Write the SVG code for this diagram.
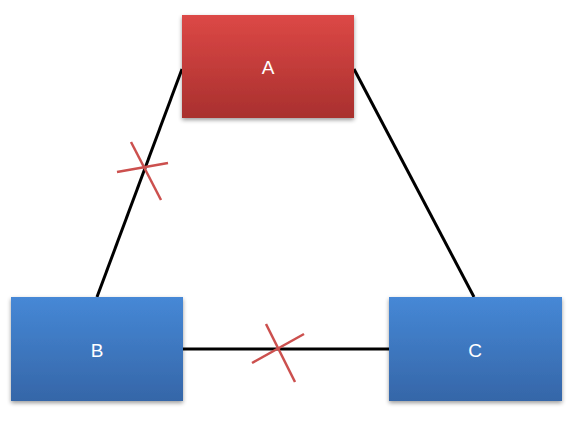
<svg xmlns="http://www.w3.org/2000/svg" width="571" height="422" viewBox="0 0 571 422">
<defs>
<linearGradient id="gRed" x1="0" y1="0" x2="0" y2="1">
<stop offset="0" stop-color="#dc4846"/>
<stop offset="1" stop-color="#a9302e"/>
</linearGradient>
<linearGradient id="gBlue" x1="0" y1="0" x2="0" y2="1">
<stop offset="0" stop-color="#4688d6"/>
<stop offset="1" stop-color="#3566a8"/>
</linearGradient>
<filter id="sh" x="-10%" y="-10%" width="120%" height="130%">
<feGaussianBlur in="SourceAlpha" stdDeviation="2"/>
<feOffset dx="0" dy="2" result="b"/>
<feComponentTransfer><feFuncA type="linear" slope="0.4"/></feComponentTransfer>
<feMerge><feMergeNode/><feMergeNode in="SourceGraphic"/></feMerge>
</filter>
</defs>
<style>
.lbl{font-family:"Liberation Sans",Arial,sans-serif;font-size:19px;fill:#ffffff;text-anchor:middle;dominant-baseline:central}
.ln{stroke:#000;stroke-width:3;fill:none}
.x{stroke:#cc504e;stroke-width:2.5;fill:none}
</style>
<rect width="571" height="422" fill="#ffffff"/>
<g id="connectors">
<line class="ln" x1="182" y1="69" x2="97" y2="297"/>
<line class="ln" x1="354" y1="69" x2="474" y2="297"/>
<line class="ln" x1="183" y1="349" x2="389" y2="349"/>
<line class="x" x1="117" y1="172" x2="168" y2="163"/>
<line class="x" x1="131" y1="142" x2="161" y2="200"/>
<line class="x" x1="252" y1="363" x2="304" y2="334"/>
<line class="x" x1="266" y1="324" x2="295" y2="382"/>
</g>
<g id="A">
<rect x="182" y="15" width="172" height="103" fill="url(#gRed)" filter="url(#sh)"/>
<text class="lbl" x="268" y="67">A</text>
</g>
<g id="B">
<rect x="11" y="297" width="172" height="104" fill="url(#gBlue)" filter="url(#sh)"/>
<text class="lbl" x="97" y="350">B</text>
</g>
<g id="C">
<rect x="389" y="297" width="173" height="104" fill="url(#gBlue)" filter="url(#sh)"/>
<text class="lbl" x="475" y="350">C</text>
</g>
</svg>
